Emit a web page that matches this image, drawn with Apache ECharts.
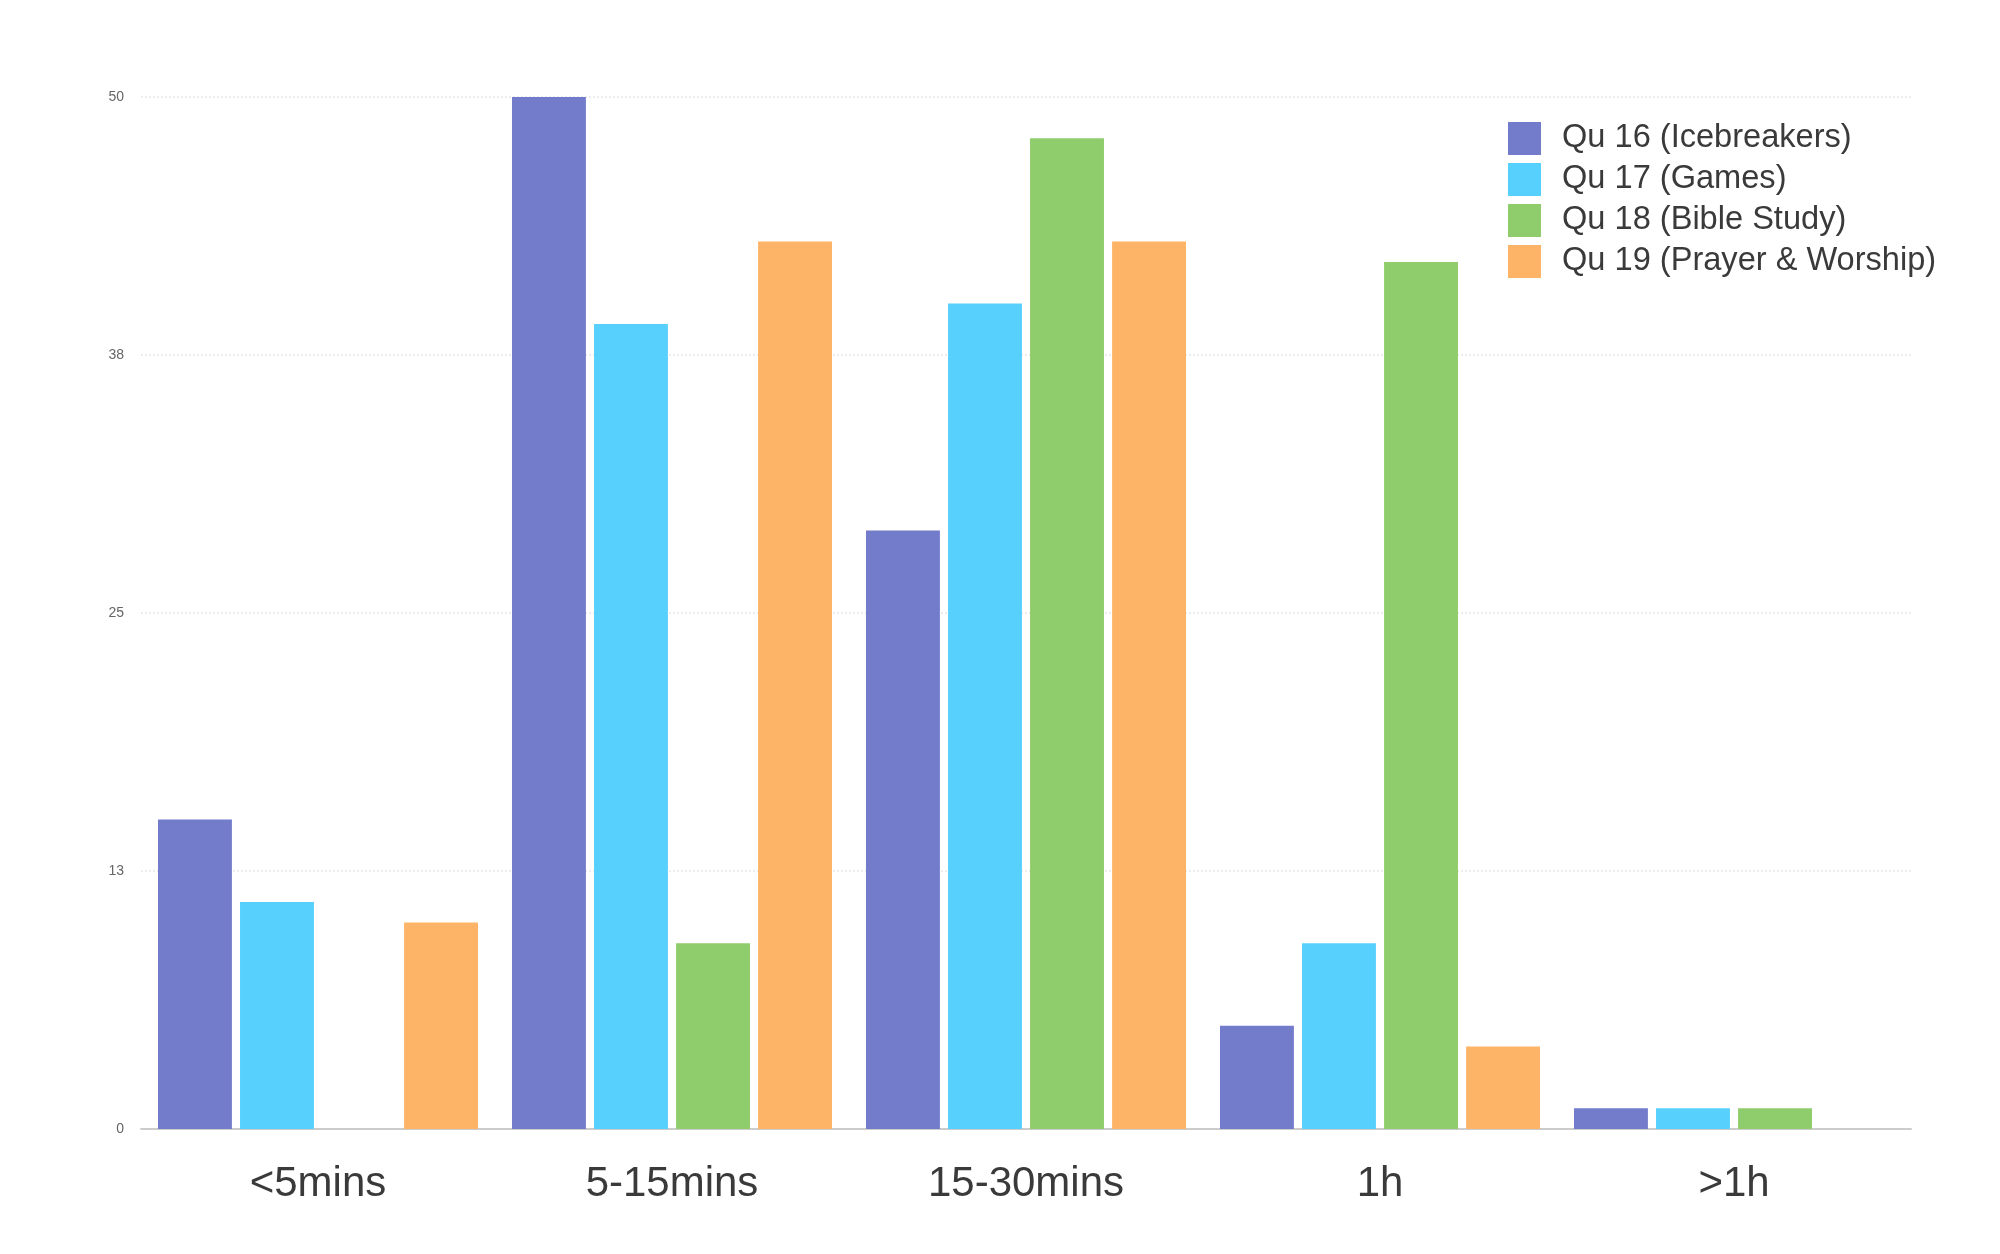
<!DOCTYPE html>
<html><head><meta charset="utf-8">
<script src="https://cdn.jsdelivr.net/npm/echarts@6/dist/echarts.min.js"></script>
<style>html,body{margin:0;padding:0;background:#fff}#c{width:2000px;height:1254px}</style>
</head><body><div id="c"></div>
<script>
const categories = ['<5mins', '5-15mins', '15-30mins', '1h', '>1h'];
const seriesNames = ['Qu 16 (Icebreakers)', 'Qu 17 (Games)', 'Qu 18 (Bible Study)', 'Qu 19 (Prayer & Worship)'];
const qu16 = [15, 50, 29, 5, 1];
const qu17 = [11, 39, 40, 9, 1];
const qu18 = [0, 9, 48, 42, 1];
const qu19 = [10, 43, 43, 4, 0];
const colors = ['#737bcb', '#57d0fd', '#8fcd6c', '#fdb466'];
const values = [qu16, qu17, qu18, qu19];

const chart = echarts.init(document.getElementById('c'));
chart.setOption({
  backgroundColor: '#fff',
  animation: false,
  textStyle: { fontFamily: 'Liberation Sans' },
  grid: { left: 141, right: 89, top: 97, bottom: 125 },
  legend: {
    orient: 'vertical', left: 1503, top: 117,
    icon: 'rect', itemWidth: 33, itemHeight: 33, itemGap: 8,
    textStyle: { fontSize: 32.6, color: '#3a3a3a', padding: [0, 0, 0, 16] },
    data: seriesNames
  },
  xAxis: {
    type: 'category', data: categories,
    axisLine: { lineStyle: { color: '#cccccc', width: 2 } },
    axisTick: { show: false },
    axisLabel: { fontSize: 42, color: '#3a3a3a', margin: 34 }
  },
  yAxis: {
    type: 'value', min: 0, max: 50, interval: 12.5,
    axisLine: { show: false }, axisTick: { show: false },
    axisLabel: { fontSize: 14, color: '#666', margin: 17, formatter: v => Math.round(v) },
    splitLine: { lineStyle: { type: 'dotted', color: '#ececec', width: 2 } }
  },
  series: values.map((d, i) => ({
    name: seriesNames[i], type: 'bar', data: d,
    barGap: '11%', barCategoryGap: '9.6%',
    itemStyle: { color: colors[i] }
  }))
});
</script></body></html>
